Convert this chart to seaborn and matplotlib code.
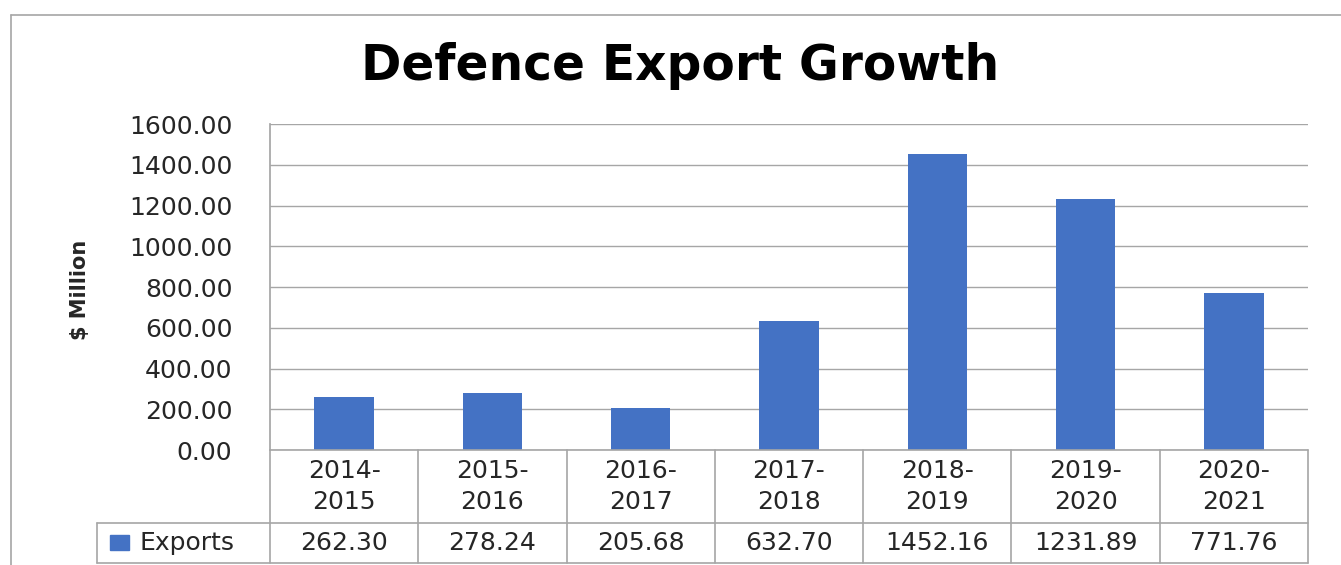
import seaborn as sns
import matplotlib.pyplot as plt
import pandas as pd
from matplotlib.lines import Line2D
from matplotlib.patches import Rectangle

# Data
years = ["2014-\n2015", "2015-\n2016", "2016-\n2017", "2017-\n2018",
         "2018-\n2019", "2019-\n2020", "2020-\n2021"]
exports = [262.30, 278.24, 205.68, 632.70, 1452.16, 1231.89, 771.76]
yticks = [0, 200, 400, 600, 800, 1000, 1200, 1400, 1600]

sns.set_theme(style="white")
plt.rcParams['font.family'] = ['DejaVu Sans']

W, H = 1341, 565
BLUE = "#4472C4"
GREY = "#A6A6A6"
TXT = "#262626"
FS = 18


def box(x0, y0, x1, y1):
    # pixel box -> figure fraction rect
    return [x0 / W, 1 - y1 / H, (x1 - x0) / W, (y1 - y0) / H]


fig = plt.figure(figsize=(W / 100, H / 100), dpi=100)

# outer chart frame
fig.add_artist(Line2D([11 / W, 11 / W], [0, 1 - 15 / H], color=GREY, lw=1.2, transform=fig.transFigure))
fig.add_artist(Line2D([11 / W, 1], [1 - 15 / H, 1 - 15 / H], color=GREY, lw=1.2, transform=fig.transFigure))

# bars
ax = fig.add_axes(box(270, 124, 1308, 450))
df = pd.DataFrame({"Year": years, "Exports": exports})
sns.barplot(data=df, x="Year", y="Exports", color=BLUE, saturation=1, width=0.4,
            linewidth=0, ax=ax, zorder=3)
ax.set_xlim(-0.5, 6.5)
ax.set_ylim(0, 1600)
ax.set_yticks(yticks)
ax.set_yticklabels([f"{v:.2f}" for v in yticks])
ax.set_xticks([])
ax.set_xlabel("")
ax.set_ylabel("")
ax.yaxis.grid(True, color=GREY, lw=1)
ax.set_axisbelow(True)
for s in ["top", "right", "bottom"]:
    ax.spines[s].set_visible(False)
ax.spines["left"].set_color(GREY)
ax.tick_params(axis="y", length=0, pad=27, labelsize=FS, labelcolor=TXT)

fig.text(80 / W, 1 - 290 / H, "$ Million", rotation=90, ha="center", va="center",
         fontsize=15, fontweight="bold", family=["Liberation Sans Narrow", "DejaVu Sans"])
fig.text(680 / W, 1 - 66 / H, "Defence Export Growth", ha="center", va="center",
         fontsize=35, fontweight="bold", color="black")

# data table under the chart
tab = fig.add_axes(box(270, 450, 1308, 563))
tab.set_xlim(-0.5, 6.5)
tab.set_ylim(0, 113)
tab.axis("off")
px = (1308 - 270) / 7
left = (97 - 270) / px - 0.5
kw = dict(color=GREY, lw=1.2, clip_on=False)
tab.plot([-0.5, 6.5], [113, 113], **kw)
tab.plot([left, 6.5], [40, 40], **kw)
tab.plot([left, 6.5], [0, 0], **kw)
tab.plot([left, left], [0, 40], **kw)
for i in range(8):
    tab.plot([i - 0.5, i - 0.5], [0, 113], **kw)
for i, (yr, v) in enumerate(zip(years, exports)):
    tab.text(i, 76.5, yr, ha="center", va="center", fontsize=FS, color=TXT, linespacing=1.38)
    tab.text(i, 20, f"{v:.2f}", ha="center", va="center", fontsize=FS, color=TXT)
tab.add_patch(Rectangle(((110 - 270) / px - 0.5, 13), 19 / px, 15, color=BLUE, clip_on=False))
tab.text((140 - 270) / px - 0.5, 20, "Exports", ha="left", va="center", fontsize=FS, color=TXT)

fig.savefig("out.png", dpi=100)
